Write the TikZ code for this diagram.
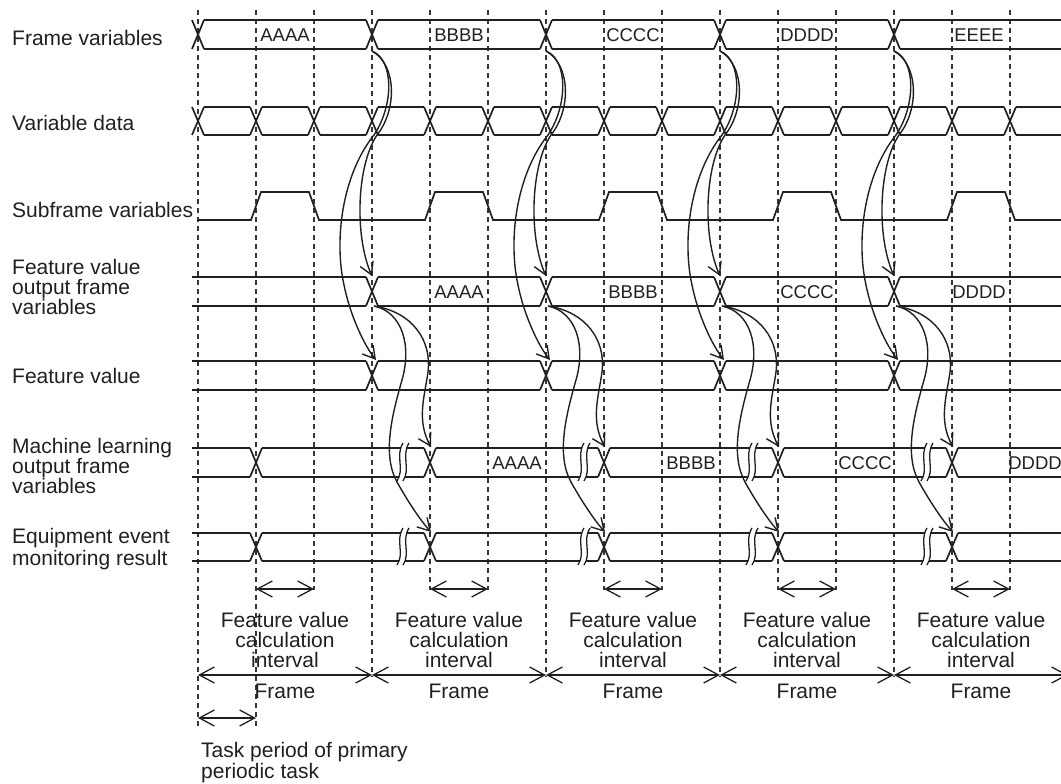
\documentclass[tikz,border=0pt]{standalone}
\usepackage{fontspec}
\setmainfont{Liberation Sans}
\usetikzlibrary{arrows.meta}
\definecolor{ink}{RGB}{35,31,32}
\newcommand\busX[3]{\draw[sig] ({#1-6},#2) -- ({#1+6},#3) ({#1-6},#3) -- ({#1+6},#2);}
\newcommand\brkmark[3]{%
  \fill[white] ({#1+3},{#2-5}) .. controls ({#1-5},{#2+8}) and ({#1+5},{#3-8}) .. ({#1-3},{#3+4}) -- ({#1+3},{#3+4}) .. controls ({#1+11},{#3-8}) and ({#1+1},{#2+8}) .. ({#1+9},{#2-5}) -- cycle;
  \draw[wave] ({#1+3},{#2-5}) .. controls ({#1-5},{#2+8}) and ({#1+5},{#3-8}) .. ({#1-3},{#3+4});
  \draw[wave] ({#1+9},{#2-5}) .. controls ({#1+1},{#2+8}) and ({#1+11},{#3-8}) .. ({#1+3},{#3+4});}
\begin{document}
\begin{tikzpicture}[x=1pt,y=-1pt,
  sig/.style={draw=ink, line width=1.7pt},
  wave/.style={draw=ink, line width=1.3pt},
  grid/.style={draw=ink!90, line width=1.1pt, dash pattern=on 5pt off 4pt},
  dim/.style={draw=ink, line width=1.3pt, {Straight Barb[length=15pt,width=16pt]}-{Straight Barb[length=15pt,width=16pt]}},
  flow/.style={draw=ink, line width=1.4pt, -{Straight Barb[length=12pt,width=14pt]}},
  lbl/.style={text=ink, inner sep=0pt, font=\fontsize{21}{20}\selectfont},
  buslbl/.style={text=ink, inner sep=0pt, font=\fontsize{18.5}{18}\selectfont}]
\useasboundingbox (0,0) rectangle (1061,784);
\fill[white] (0,0) rectangle (1061,784);
\clip (0,0) rectangle (1061,784);

% dashed grid
\foreach \xx in {198,256} \draw[grid] (\xx,10) -- (\xx,728);
\foreach \xx in {372,546,720,894} \draw[grid] (\xx,10) -- (\xx,677);
\foreach \xx in {314,430,488,604,662,778,836,952,1010} \draw[grid] (\xx,10) -- (\xx,590);

% left labels
\node[lbl, anchor=base west] (lfv) at (12,46) {Frame variables};
\node[lbl, anchor=base west] (lvd) at (12,130) {Variable data};
\node[lbl, anchor=base west] (lsf) at (12,217) {Subframe variables};
\node[lbl, anchor=north west, align=left] (lfo) at (12,259) {Feature value\\output frame\\variables};
\node[lbl, anchor=base west] (lfe) at (12,383) {Feature value};
\node[lbl, anchor=north west, align=left] (lml) at (12,438) {Machine learning\\output frame\\variables};
\node[lbl, anchor=north west, align=left] (leq) at (12,528) {Equipment event\\[2pt]monitoring result};

% Frame variables
\foreach \cx in {198,372,546,720,894,1068} {\busX{\cx}{20}{49}}
\foreach \cx in {198,372,546,720,894} {\draw[sig] ({\cx+6},20) -- ({\cx+168},20) ({\cx+6},49) -- ({\cx+168},49);}
\node[buslbl] (fvt1) at (285,35) {AAAA};
\node[buslbl] (fvt2) at (459,35) {BBBB};
\node[buslbl] (fvt3) at (633,35) {CCCC};
\node[buslbl] (fvt4) at (807,35) {DDDD};
\node[buslbl] (fvt5) at (979,35) {EEEE};

% Variable data
\foreach \cx in {198,256,...,1068} {\busX{\cx}{107}{135}}
\foreach \cx in {198,256,...,1010} {\draw[sig] ({\cx+6},107) -- ({\cx+52},107) ({\cx+6},135) -- ({\cx+52},135);}

% Subframe variables
\draw[sig] (197,220) foreach \sx in {198,372,546,720,894} { -- ({\sx+53},220) -- ({\sx+63},192) -- ({\sx+111},192) -- ({\sx+121},220) } -- (1061,220);

% Feature value output frame variables / Feature value
\foreach \yt/\yb in {277/306,361/390} {
  \draw[sig] (192,\yt) -- (366,\yt) (192,\yb) -- (366,\yb);
  \foreach \cx in {372,546,720,894} {\busX{\cx}{\yt}{\yb}}
  \foreach \cx in {372,546,720} {\draw[sig] ({\cx+6},\yt) -- ({\cx+168},\yt) ({\cx+6},\yb) -- ({\cx+168},\yb);}
  \draw[sig] (900,\yt) -- (1061,\yt) (900,\yb) -- (1061,\yb);
}
\node[buslbl] (fot1) at (459,292) {AAAA};
\node[buslbl] (fot2) at (633,292) {BBBB};
\node[buslbl] (fot3) at (807,292) {CCCC};
\node[buslbl] (fot4) at (979,292) {DDDD};

% ML output / Equipment event
\foreach \yt/\yb in {448/477,533/561} {
  \draw[sig] (192,\yt) -- (250,\yt) (192,\yb) -- (250,\yb);
  \foreach \cx in {256,430,604,778,952} {\busX{\cx}{\yt}{\yb}}
  \foreach \cx in {256,430,604,778} {\draw[sig] ({\cx+6},\yt) -- ({\cx+168},\yt) ({\cx+6},\yb) -- ({\cx+168},\yb);}
  \draw[sig] (958,\yt) -- (1061,\yt) (958,\yb) -- (1061,\yb);
  \foreach \bx in {400,581,749,924} {\brkmark{\bx}{\yt}{\yb}}
}
\node[buslbl] (mlt1) at (517,463) {AAAA};
\node[buslbl] (mlt2) at (691,463) {BBBB};
\node[buslbl] (mlt3) at (865,463) {CCCC};
\node[buslbl] (mlt4) at (1035,463) {DDDD};

% flow arrows
\foreach \XX [count=\kk] in {372,546,720,894} {
  \coordinate (fs\kk) at (\XX,51);
  \coordinate (fo\kk) at (\XX,276);
  \coordinate (fe\kk) at ({\XX+4},360);
  \coordinate (os\kk) at ({\XX+2},306);
  \coordinate (ml\kk) at ({\XX+59},447);
  \coordinate (eq\kk) at ({\XX+59},532);
  \draw[flow] (fs\kk) .. controls ({\XX+25},65) and ({\XX+25},110) .. ({\XX+5},135) .. controls ({\XX-15},165) and ({\XX-18},235) .. (fo\kk);
  \draw[flow] (fs\kk) .. controls ({\XX+22},60) and ({\XX+22},105) .. ({\XX+2},135) .. controls ({\XX-30},175) and ({\XX-38},240) .. ({\XX-28},285) .. controls ({\XX-22},315) and ({\XX-8},345) .. (fe\kk);
  \draw[flow] (os\kk) .. controls ({\XX+40},312) and ({\XX+60},340) .. ({\XX+56},372) .. controls ({\XX+53},395) and ({\XX+44},420) .. (ml\kk);
  \draw[flow] (os\kk) .. controls ({\XX+30},312) and ({\XX+40},345) .. ({\XX+30},380) .. controls ({\XX+20},415) and ({\XX+10},455) .. ({\XX+25},482) .. controls ({\XX+35},500) and ({\XX+48},520) .. (eq\kk);
}

% dimension arrows and bottom labels
\foreach \sx [count=\kk] in {198,372,546,720,894} {
  \coordinate (ia\kk) at ({\sx+58},589);
  \coordinate (ib\kk) at ({\sx+116},589);
  \draw[dim] (ia\kk) -- (ib\kk);
  \coordinate (fa\kk) at (\sx,675);
  \coordinate (fb\kk) at ({\sx+174},675);
  \draw[dim] (fa\kk) -- (fb\kk);
  \node[lbl, align=center, anchor=north] (iv\kk) at ({\sx+87},612) {Feature value\\calculation\\interval};
  \node[lbl, anchor=base] (fr\kk) at ({\sx+87},698) {Frame};
}
\coordinate (ta) at (198,718);
\coordinate (tb) at (256,718);
\draw[dim] (ta) -- (tb);
\node[lbl, anchor=north west, align=left] (tp) at (201,742) {Task period of primary\\[1pt]periodic task};
\end{tikzpicture}
\end{document}
